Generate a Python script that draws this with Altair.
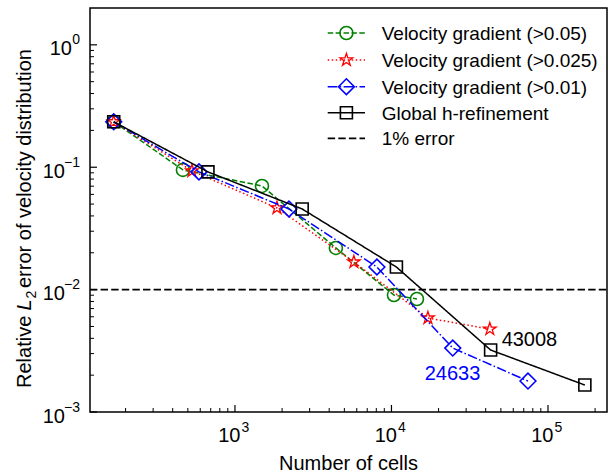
import altair as alt
import pandas as pd

# ---------------- data ----------------
series_names = [
    "Velocity gradient (>0.05)",
    "Velocity gradient (>0.025)",
    "Velocity gradient (>0.01)",
    "Global h-refinement",
]
x_green = [168, 465, 1488, 4413, 10370, 14550]
y_green = [0.235, 0.0951, 0.0703, 0.0219, 0.00903, 0.00838]
x_red = [168, 531, 1854, 5751, 17100, 42500]
y_red = [0.235, 0.0933, 0.0465, 0.0168, 0.00586, 0.00476]
x_blue = [168, 589, 2213, 8070, 24633, 74500]
y_blue = [0.235, 0.0916, 0.0456, 0.0153, 0.00333, 0.00179]
x_black = [168, 672, 2688, 10752, 43008, 172032]
y_black = [0.235, 0.0916, 0.0456, 0.0153, 0.00321, 0.00166]

threshold_name = "1% error"
threshold_y = [0.01]

annot_text = ["43008", "24633"]
annot_x = [43008, 24633]
annot_y = [0.00321, 0.00333]

x_major = [1e3, 1e4, 1e5]
x_major_exp = ["3", "4", "5"]
x_minor = [200, 300, 400, 500, 600, 700, 800, 900,
           2000, 3000, 4000, 5000, 6000, 7000, 8000, 9000,
           20000, 30000, 40000, 50000, 60000, 70000, 80000, 90000,
           200000]
y_major = [1.0, 0.1, 0.01, 0.001]
y_major_exp = ["0", "\u22121", "\u22122", "\u22123"]
y_minor = [0.002, 0.003, 0.004, 0.005, 0.006, 0.007, 0.008, 0.009,
           0.02, 0.03, 0.04, 0.05, 0.06, 0.07, 0.08, 0.09,
           0.2, 0.3, 0.4, 0.5, 0.6, 0.7, 0.8, 0.9]

x_title = "Number of cells"
y_title_parts = ["Relative ", "L", "2", " error of velocity distribution"]

# ---------------- styles ----------------
F = "Liberation Sans"
W, H = 517, 404
STAR = ("M0,-1L0.2245,-0.309L0.9511,-0.309L0.3633,0.118L0.5878,0.809L0,0.382"
        "L-0.5878,0.809L-0.3633,0.118L-0.9511,-0.309L-0.2245,-0.309Z")
styles = [
    dict(color="#008000", dash=[5.5, 2.4], shape="circle", size=169, sw=1.6),
    dict(color="#ff0000", dash=[1.5, 2.5], shape=STAR, size=175, sw=1.3),
    dict(color="#0000ff", dash=[9.6, 2.4, 1.5, 2.4], shape="diamond", size=250, sw=1.6),
    dict(color="#000000", dash=[1, 0], shape="square", size=144, sw=1.6),
]
xs = alt.Scale(type="log", domain=[118.5, 238300], nice=False)
ys = alt.Scale(type="log", domain=[0.001, 2.0], nice=False)

xs_list = [x_green, x_red, x_blue, x_black]
ys_list = [y_green, y_red, y_blue, y_black]

layers = []

# threshold line
df_thr = pd.DataFrame({"y": threshold_y})
layers.append(
    alt.Chart(df_thr).mark_rule(color="black", strokeWidth=1.8, strokeDash=[7.4, 3.2]).encode(
        y=alt.Y("y:Q", scale=ys, axis=None), x=alt.value(0), x2=alt.value(W)
    )
)

# series
for name, xv, yv, st in zip(series_names, xs_list, ys_list, styles):
    df = pd.DataFrame({"x": xv, "y": yv, "s": name})
    enc = dict(x=alt.X("x:Q", scale=xs, axis=None), y=alt.Y("y:Q", scale=ys, axis=None))
    layers.append(
        alt.Chart(df).mark_line(color=st["color"], strokeWidth=1.5, strokeDash=st["dash"]).encode(**enc)
    )
    layers.append(
        alt.Chart(df).mark_point(shape=st["shape"], size=st["size"], filled=False, color=st["color"],
                                 strokeWidth=st["sw"], opacity=1).encode(**enc)
    )

# annotations
df_ann = pd.DataFrame({"t": annot_text, "x": annot_x, "y": annot_y})
ann_offsets = [(11, -4, "black"), (-28, 32, "#0000ff")]
for i, (dx, dy, col) in enumerate(ann_offsets):
    layers.append(
        alt.Chart(df_ann.iloc[[i]]).mark_text(align="left", baseline="alphabetic", fontSize=20, font=F,
                                              color=col, dx=dx, dy=dy).encode(
            x=alt.X("x:Q", scale=xs, axis=None), y=alt.Y("y:Q", scale=ys, axis=None), text="t:N"
        )
    )

# ticks (inward)
df_xmaj = pd.DataFrame({"v": x_major, "e": x_major_exp, "b": ["10"] * len(x_major)})
df_xmin = pd.DataFrame({"v": x_minor})
df_ymaj = pd.DataFrame({"v": y_major, "e": y_major_exp, "b": ["10"] * len(y_major)})
df_ymin = pd.DataFrame({"v": y_minor})

layers.append(alt.Chart(df_xmaj).mark_rule(color="black", strokeWidth=1.2).encode(
    x=alt.X("v:Q", scale=xs, axis=None), y=alt.value(H), y2=alt.value(H - 7)))
layers.append(alt.Chart(df_xmin).mark_rule(color="black", strokeWidth=1.0).encode(
    x=alt.X("v:Q", scale=xs, axis=None), y=alt.value(H), y2=alt.value(H - 4)))
layers.append(alt.Chart(df_ymaj).mark_rule(color="black", strokeWidth=1.2).encode(
    y=alt.Y("v:Q", scale=ys, axis=None), x=alt.value(0), x2=alt.value(7)))
layers.append(alt.Chart(df_ymin).mark_rule(color="black", strokeWidth=1.0).encode(
    y=alt.Y("v:Q", scale=ys, axis=None), x=alt.value(0), x2=alt.value(4)))

# x tick labels
layers.append(alt.Chart(df_xmaj).mark_text(align="right", baseline="alphabetic", fontSize=20, font=F,
                                           dx=5.5, color="black").encode(
    x=alt.X("v:Q", scale=xs, axis=None), y=alt.value(434), text="b:N"))
layers.append(alt.Chart(df_xmaj).mark_text(align="left", baseline="alphabetic", fontSize=14, font=F,
                                           dx=6.5, color="black").encode(
    x=alt.X("v:Q", scale=xs, axis=None), y=alt.value(424), text="e:N"))

# y tick labels
layers.append(alt.Chart(df_ymaj).transform_filter("datum.e == '0'").mark_text(
    align="right", baseline="alphabetic", fontSize=20, font=F, dy=10.5, color="black").encode(
    y=alt.Y("v:Q", scale=ys, axis=None), x=alt.value(-18), text="b:N"))
layers.append(alt.Chart(df_ymaj).transform_filter("datum.e != '0'").mark_text(
    align="right", baseline="alphabetic", fontSize=20, font=F, dy=10.5, color="black").encode(
    y=alt.Y("v:Q", scale=ys, axis=None), x=alt.value(-25), text="b:N"))
layers.append(alt.Chart(df_ymaj).mark_text(
    align="right", baseline="alphabetic", fontSize=14, font=F, dy=-0.5, color="black").encode(
    y=alt.Y("v:Q", scale=ys, axis=None), x=alt.value(-10), text="e:N"))

# x title
layers.append(alt.Chart(pd.DataFrame({"t": [x_title]})).mark_text(
    align="center", baseline="alphabetic", fontSize=20, font=F, color="black").encode(
    x=alt.value(258.5), y=alt.value(462), text="t:N"))

# y title (rotated, built from pieces)
yt_specs = [
    (y_title_parts[0], 380, -59, 20, "normal"),
    (y_title_parts[1], 302.5, -59, 20, "italic"),
    (y_title_parts[2], 290.5, -54, 14, "normal"),
    (y_title_parts[3], 280, -59, 20, "normal"),
]
for txt, yy, xx, fs, style in yt_specs:
    layers.append(alt.Chart(pd.DataFrame({"t": [txt]})).mark_text(
        align="left", baseline="alphabetic", angle=270, fontSize=fs, font=F, fontStyle=style,
        color="black").encode(x=alt.value(xx), y=alt.value(yy), text="t:N"))

# legend (manual, matplotlib-like)
leg_rows = [25, 52, 78.7, 104.7, 130.3]
leg_names = series_names + [threshold_name]
leg_styles = styles + [dict(color="#000000", dash=[7.4, 3.2], shape=None, size=0, sw=0)]
for name, ry, st in zip(leg_names, leg_rows, leg_styles):
    dfl = pd.DataFrame({"t": [name]})
    lw = 1.8 if st["shape"] is None else 1.5
    layers.append(alt.Chart(dfl).mark_rule(color=st["color"], strokeWidth=lw, strokeDash=st["dash"]).encode(
        x=alt.value(237.7), x2=alt.value(275), y=alt.value(ry)))
    if st["shape"] is not None:
        layers.append(alt.Chart(dfl).mark_point(shape=st["shape"], size=st["size"], filled=False,
                                                color=st["color"], strokeWidth=st["sw"], opacity=1).encode(
            x=alt.value(256.4), y=alt.value(ry)))
    layers.append(alt.Chart(dfl).mark_text(align="left", baseline="alphabetic", fontSize=19, font=F,
                                           color="black").encode(
        x=alt.value(291.7), y=alt.value(ry + 6.8), text="t:N"))

chart = alt.layer(*layers).properties(
    width=W, height=H,
    padding={"left": 90, "top": 8, "right": 2, "bottom": 63},
    autosize=alt.AutoSizeParams(type="none"),
    background="white",
).configure_view(stroke="black", strokeWidth=1.5)

chart.save("out.html", embed_options={"renderer": "svg", "actions": False})
